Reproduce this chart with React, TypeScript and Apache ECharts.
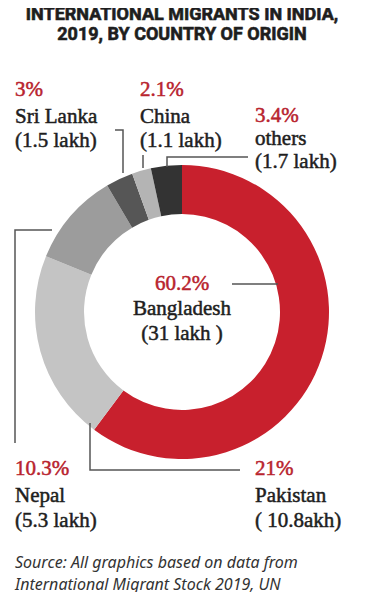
import React, { useEffect, useRef } from "react";
import * as echarts from "echarts";

const countries = ["Bangladesh", "Pakistan", "Nepal", "Sri Lanka", "China", "others"];
const shares = [60.2, 21, 10.3, 3, 2.1, 3.4];
const lakhLabels = ["(31 lakh )", "( 10.8akh)", "(5.3 lakh)", "(1.5 lakh)", "(1.1 lakh)", "(1.7 lakh)"];
const sliceColors = ["#c8202d", "#c4c4c4", "#9c9c9c", "#565656", "#b4b4b4", "#333333"];
const titleLines = ["INTERNATIONAL MIGRANTS IN INDIA,", "2019, BY COUNTRY OF ORIGIN"];
const sourceLines = ["Source: All graphics based on data from", "International Migrant Stock 2019, UN"];

// label layout (x, y of the three lines' middles, alignment)
const labelPos: { x: number; ys: number[]; align: string }[] = [
  { x: 182, ys: [283, 308, 333], align: "center" },
  { x: 255, ys: [468, 495, 520], align: "left" },
  { x: 15, ys: [468, 495, 520], align: "left" },
  { x: 15, ys: [89, 116, 140], align: "left" },
  { x: 140, ys: [89, 116, 140], align: "left" },
  { x: 255, ys: [115, 138, 161], align: "left" },
];
const leaders: number[][][] = [
  [[232, 284], [278, 284]],
  [[90, 423], [90, 470], [240, 470]],
  [[52, 230], [15, 230], [15, 443]],
  [[115, 130], [123, 130], [123, 173]],
  [[143, 155], [143, 168]],
  [[248, 157], [167, 157], [167, 167]],
];

export default function App() {
  const ref = useRef<HTMLDivElement>(null);
  useEffect(() => {
    if (!ref.current) return;
    const chart = echarts.init(ref.current, undefined, { renderer: "svg" });
    const serif = "'Liberation Serif', 'DejaVu Serif', serif";
    const graphics: any[] = [];
    titleLines.forEach((t, i) => {
      graphics.push({
        type: "text",
        x: 182,
        y: 13 + i * 20,
        style: {
          text: t,
          fill: "#1e1e1e",
          stroke: "#1e1e1e",
          lineWidth: 0.6,
          font: "bold 18px Roboto, 'Liberation Sans', sans-serif",
          textAlign: "center",
          textVerticalAlign: "middle",
        },
      });
    });
    countries.forEach((c, i) => {
      const p = labelPos[i];
      const texts = [shares[i] + "%", c, lakhLabels[i]];
      texts.forEach((t, j) => {
        const col = j === 0 ? "#b8232e" : "#1e1e1e";
        graphics.push({
          type: "text",
          x: p.x,
          y: p.ys[j],
          z: 10,
          style: {
            text: t,
            fill: col,
            stroke: col,
            lineWidth: 0.5,
            font: `21px ${serif}`,
            textAlign: p.align,
            textVerticalAlign: "middle",
          },
        });
      });
      graphics.push({
        type: "polyline",
        z: 10,
        shape: { points: leaders[i] },
        style: { stroke: "#555", lineWidth: 1.5, fill: "none" },
      });
    });
    sourceLines.forEach((t, i) => {
      graphics.push({
        type: "text",
        x: 15,
        y: 562 + i * 22,
        style: {
          text: t,
          fill: "#333",
          font: "italic 16px 'Noto Sans', sans-serif",
          textAlign: "left",
          textVerticalAlign: "middle",
        },
      });
    });

    chart.setOption({
      animation: false,
      backgroundColor: "#ffffff",
      series: [
        {
          type: "pie",
          radius: [98, 147],
          center: [182, 312],
          startAngle: 90,
          clockwise: true,
          label: { show: false },
          labelLine: { show: false },
          emphasis: { disabled: true },
          data: countries.map((c, i) => ({
            name: c,
            value: shares[i],
            itemStyle: { color: sliceColors[i] },
          })),
        },
      ],
      graphic: graphics,
    });
    return () => chart.dispose();
  }, []);
  return <div ref={ref} style={{ width: 365, height: 600, margin: -8 }} />;
}
